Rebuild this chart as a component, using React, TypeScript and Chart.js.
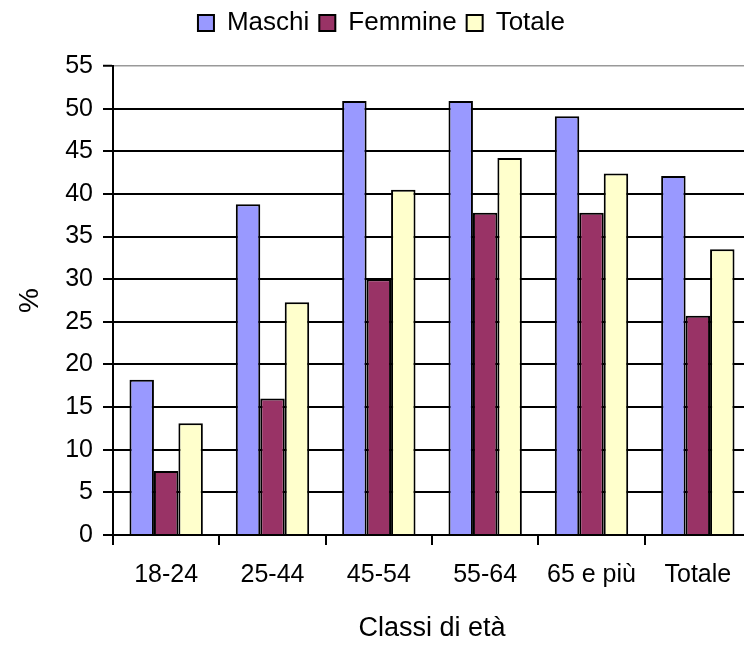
import React, { useEffect, useRef } from "react";
import { Chart, registerables } from "chart.js";

Chart.register(...registerables);

const categories = ["18-24", "25-44", "45-54", "55-64", "65 e più", "Totale"];
const maschi = [18.2, 38.8, 50.9, 50.9, 49.1, 42.1];
const femmine = [7.5, 16.0, 30.0, 37.8, 37.8, 25.7];
const totale = [13.1, 27.3, 40.5, 44.2, 42.4, 33.5];
const seriesNames = ["Maschi", "Femmine", "Totale"];
const yTitle = "%";
const xTitle = "Classi di età";

const FONT = "'Liberation Sans', Arial, Helvetica, sans-serif";

const legendSpacer = {
  id: "legendSpacer",
  beforeInit(chart: any) {
    const legend = chart.legend;
    if (!legend) return;
    const origFit = legend.fit;
    legend.fit = function fit() {
      origFit.call(this);
      this.height += 20;
    };
  },
};

export default function App() {
  const ref = useRef<HTMLCanvasElement | null>(null);

  useEffect(() => {
    if (!ref.current) return;
    const chart = new Chart(ref.current, {
      type: "bar",
      data: {
        labels: categories,
        datasets: [
          { label: seriesNames[0], data: maschi, backgroundColor: "#9999FF", borderColor: "#000000", borderWidth: 2 },
          { label: seriesNames[1], data: femmine, backgroundColor: "#993366", borderColor: "#000000", borderWidth: 2 },
          { label: seriesNames[2], data: totale, backgroundColor: "#FFFFCC", borderColor: "#000000", borderWidth: 2 },
        ],
      },
      options: {
        responsive: false,
        animation: false,
        devicePixelRatio: 1,
        layout: { padding: { left: 12, right: 0, top: 0, bottom: 0 } },
        datasets: { bar: { categoryPercentage: 0.69, barPercentage: 1.0 } },
        plugins: {
          legend: {
            position: "top",
            align: "center",
            labels: {
              font: { family: FONT, size: 26 },
              color: "#000",
              boxWidth: 16,
              boxHeight: 16,
              padding: 10,
            },
          },
          tooltip: { enabled: false },
        },
        scales: {
          x: {
            type: "category",
            offset: true,
            grid: {
              offset: true,
              drawOnChartArea: false,
              drawTicks: true,
              tickLength: 10,
              color: "#000",
              lineWidth: 2,
            },
            border: { display: true, color: "#000", width: 2 },
            ticks: {
              font: { family: FONT, size: 25 },
              color: "#000",
              padding: 15,
              maxRotation: 0,
              minRotation: 0,
              autoSkip: false,
            },
            title: {
              display: true,
              text: xTitle,
              font: { family: FONT, size: 27 },
              color: "#000",
              padding: { top: 0, bottom: 0 },
            },
            afterFit: (s: any) => {
              s.height = 110;
            },
          },
          y: {
            min: 0,
            max: 55,
            grid: {
              color: (c: any) => (c.tick && c.tick.value === 55 ? "#999999" : "#000000"),
              lineWidth: (c: any) => (c.tick && c.tick.value === 55 ? 1.5 : 2),
              tickColor: "#000",
              tickWidth: 2,
              tickLength: 10,
              drawTicks: true,
            },
            border: { display: true, color: "#000", width: 2 },
            ticks: {
              stepSize: 5,
              autoSkip: false,
              font: { family: FONT, size: 25 },
              color: "#000",
              padding: 10,
            },
            title: {
              display: true,
              text: yTitle,
              font: { family: FONT, size: 28 },
              color: "#000",
              padding: { top: 1, bottom: 0 },
            },
            afterFit: (s: any) => {
              s.width = 101;
            },
          },
        },
      },
      plugins: [legendSpacer],
    });
    return () => chart.destroy();
  }, []);

  return (
    <div style={{ position: "fixed", left: 0, top: 0, width: 744, height: 645, overflow: "hidden", background: "#fff" }}>
      <canvas ref={ref} width={751} height={645} style={{ width: 751, height: 645, display: "block" }} />
    </div>
  );
}
